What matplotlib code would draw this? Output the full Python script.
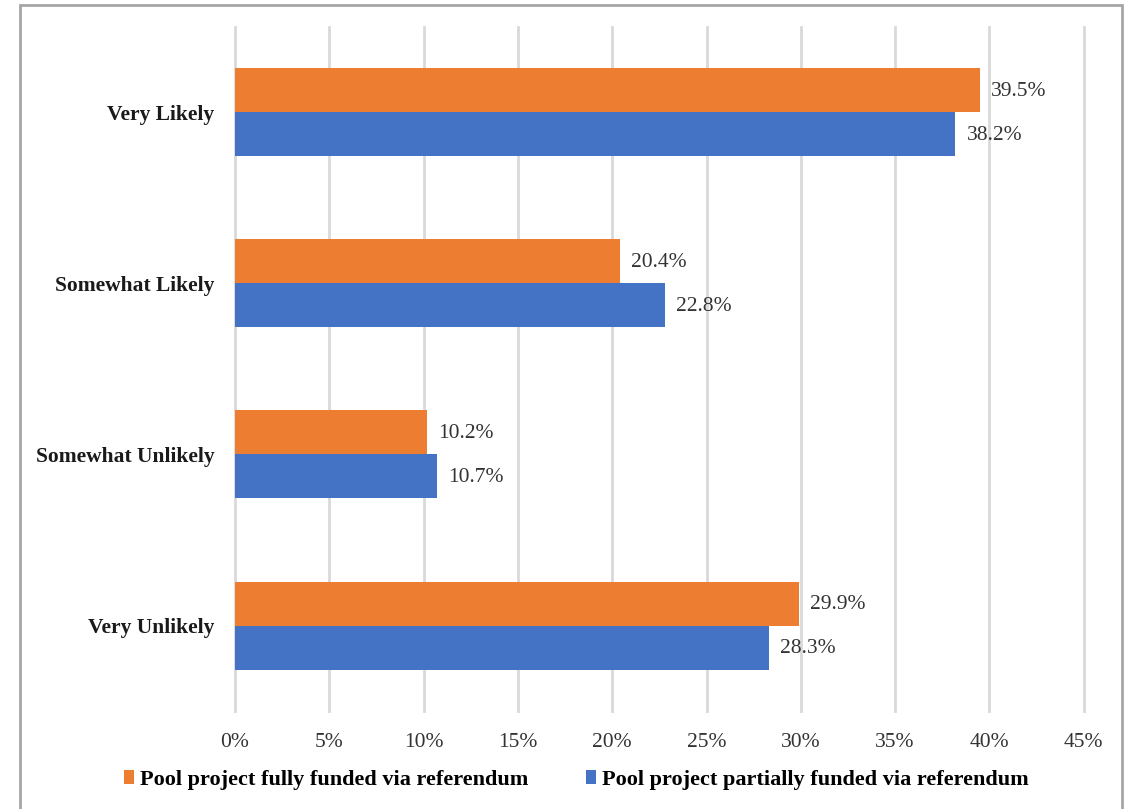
import numpy as np
import matplotlib.pyplot as plt
from matplotlib.patches import Rectangle

categories = ['Very Unlikely', 'Somewhat Unlikely', 'Somewhat Likely', 'Very Likely']
fully_funded = [29.9, 10.2, 20.4, 39.5]
partially_funded = [28.3, 10.7, 22.8, 38.2]
series_names = ['Pool project fully funded via referendum',
                'Pool project partially funded via referendum']
xticks = [0, 5, 10, 15, 20, 25, 30, 35, 40, 45]

plt.rcParams['font.family'] = ['Liberation Serif', 'DejaVu Serif']

orange = '#ed7d31'
blue = '#4472c4'

fig = plt.figure(figsize=(11.3, 8.09), dpi=100)
ax = fig.add_axes([0.208, 0.121, 0.751, 0.846])

y = np.arange(len(categories))
h = 0.257
b1 = ax.barh(y + h / 2, fully_funded, height=h, color=orange, label=series_names[0], zorder=3)
b2 = ax.barh(y - h / 2, partially_funded, height=h, color=blue, label=series_names[1], zorder=3)

for bars, vals in ((b1, fully_funded), (b2, partially_funded)):
    for bar, v in zip(bars, vals):
        ax.annotate(f'{v:.1f}%', (bar.get_width(), bar.get_y() + bar.get_height() / 2),
                    xytext=(8, -1), textcoords='offset points', va='center', ha='left',
                    fontsize=15.5, color='#333333')

ax.set_xlim(0, 45)
ax.set_ylim(-0.5, 3.5)
ax.set_xticks(xticks)
ax.set_xticklabels([f'{t}%' for t in xticks], fontsize=15.5, color='#333333')
ax.set_yticks(y)
ax.set_yticklabels(categories, fontsize=15.5, fontweight='bold', color='#1a1a1a')
ax.tick_params(axis='both', length=0)
ax.tick_params(axis='x', pad=16)
ax.tick_params(axis='y', pad=15)
ax.grid(axis='x', color='#d9d9d9', linewidth=2, zorder=0)
for line in ax.get_xgridlines():
    line.set_clip_on(False)
for s in ax.spines.values():
    s.set_visible(False)

leg = fig.legend(handles=[b1, b2], loc='center', bbox_to_anchor=(0.51, 0.036), ncol=2,
                 frameon=False, handlelength=0.45, handleheight=0.6,
                 handletextpad=0.25, columnspacing=2.6, prop={'weight': 'bold', 'size': 16})

fig.patches.append(Rectangle((20 / 1130, -0.01), 1102 / 1130, 1 - 5 / 809 + 0.01,
                             transform=fig.transFigure, fill=False,
                             edgecolor='#a6a6a6', linewidth=2))

fig.savefig('out.png', dpi=100)
